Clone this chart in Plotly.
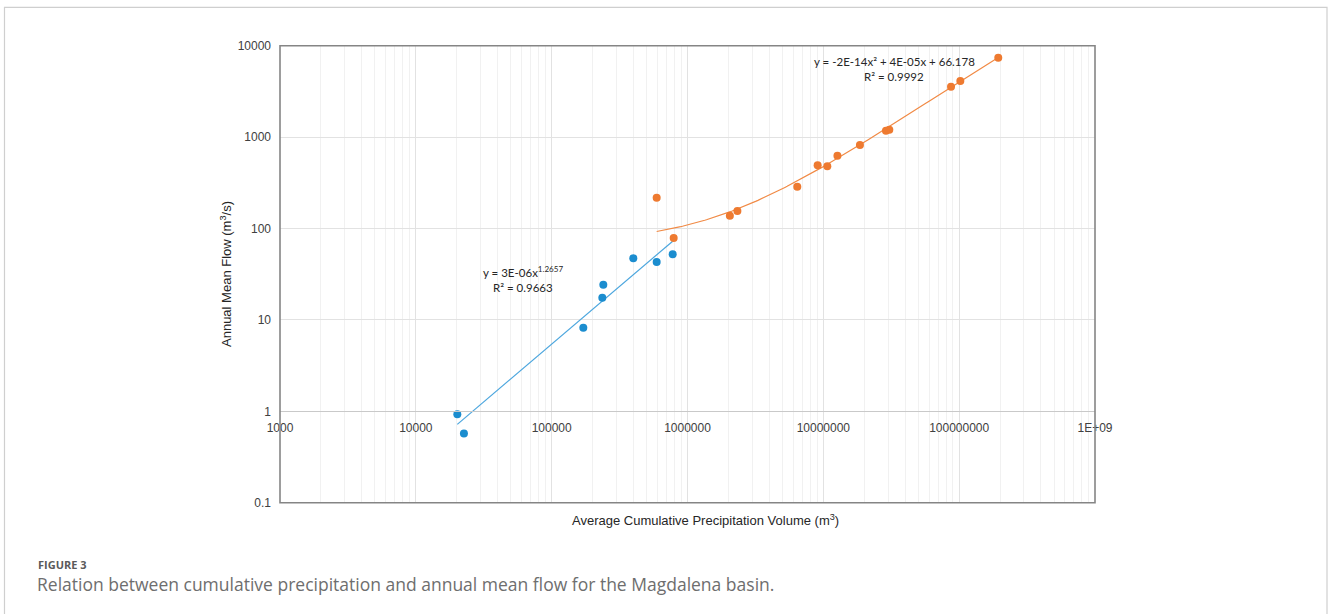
import numpy as np
import plotly.graph_objects as go

# ---- data ----
blue_x = [20200, 22600, 171000, 236000, 240000, 399000, 593000, 778000]
blue_y = [0.93, 0.57, 8.2, 17.5, 24.3, 47.2, 43.0, 52.3]

orange_x = [593000, 791000, 2.05e6, 2.33e6, 6.43e6, 9.08e6, 1.07e7, 1.27e7,
            1.86e7, 2.89e7, 3.06e7, 8.71e7, 1.02e8, 1.94e8]
orange_y = [217, 78.8, 138, 155, 286, 491, 479, 627,
            820, 1175, 1205, 3560, 4110, 7400]

x_tickvals = [1e3, 1e4, 1e5, 1e6, 1e7, 1e8, 1e9]
x_ticktext = ["1000", "10000", "100000", "1000000", "10000000", "100000000", "1E+09"]
y_tickvals = [0.1, 1, 10, 100, 1000, 10000]
y_ticktext = ["0.1", "1", "10", "100", "1000", "10000"]

blue_eq = "y = 3E-06x<sup>1.2657</sup>"
blue_r2 = "R² = 0.9663"
orange_eq = "y = -2E-14x² + 4E-05x + 66.178"
orange_r2 = "R² = 0.9992"

x_title = "Average Cumulative Precipitation Volume (m<sup>3</sup>)"
y_title = "Annual Mean Flow (m<sup>3</sup>/s)"
fig_label = "FIGURE 3"
caption = "Relation between cumulative precipitation and annual mean flow for the Magdalena basin."

BLUE = "#1b8dcf"
BLUE_LINE = "#4ba6de"
ORANGE = "#ee7a30"
ORANGE_LINE = "#f18a45"

# ---- trendlines fitted from the data (as the spreadsheet does) ----
bx = np.array(blue_x, float); by = np.array(blue_y, float)
b_slope, b_int = np.polyfit(np.log10(bx), np.log10(by), 1)
bfx = np.logspace(np.log10(bx.min()), np.log10(bx.max()), 100)
bfy = 10 ** b_int * bfx ** b_slope

ox = np.array(orange_x, float); oy = np.array(orange_y, float)
oc = np.polyfit(ox, oy, 2)
ofx = np.logspace(np.log10(ox.min()), np.log10(ox.max()), 200)
ofy = np.polyval(oc, ofx)

W, H = 1328, 614
def px(x):
    return x / W
def py(y):
    return 1 - y / H

fig = go.Figure()
fig.add_trace(go.Scatter(x=bfx, y=bfy, mode="lines",
                         line=dict(color=BLUE_LINE, width=1.2), hoverinfo="skip"))
fig.add_trace(go.Scatter(x=ofx, y=ofy, mode="lines",
                         line=dict(color=ORANGE_LINE, width=1.2), hoverinfo="skip"))
fig.add_trace(go.Scatter(x=blue_x, y=blue_y, mode="markers",
                         marker=dict(color=BLUE, size=8)))
fig.add_trace(go.Scatter(x=orange_x, y=orange_y, mode="markers",
                         marker=dict(color=ORANGE, size=8)))

minor_x = [m * 10 ** e for e in range(3, 9) for m in range(2, 10)]

x0d, x1d = 280 / W, 1095 / W
y0d, y1d = py(502.7), py(45.7)
axis_pos = y0d + (y1d - y0d) * (0 - (-1)) / 5  # where y = 1 sits

fig.update_layout(
    width=W, height=H,
    margin=dict(l=0, r=0, t=0, b=0),
    paper_bgcolor="white", plot_bgcolor="white",
    showlegend=False,
    font=dict(family="Liberation Sans, Arial, sans-serif", color="#404040", size=12),
    xaxis=dict(type="log", range=[3, 9], domain=[x0d, x1d],
               anchor="free", position=axis_pos,
               tickvals=x_tickvals, ticktext=x_ticktext,
               showline=True, linecolor="#c9c9c9", linewidth=1.3,
               showgrid=True, gridcolor="#e2e2e2", gridwidth=1,
               zeroline=False, ticks="", automargin=False,
               ticklabelstandoff=5,
               tickfont=dict(size=12, color="#404040"),
               minor=dict(tickvals=minor_x, showgrid=True, gridcolor="#f1f1f1", gridwidth=1, ticks="")),
    yaxis=dict(type="log", range=[-1, 4], domain=[y0d, y1d],
               tickvals=y_tickvals, ticktext=y_ticktext,
               showline=False, showgrid=True, gridcolor="#e2e2e2", gridwidth=1,
               zeroline=False, ticks="", automargin=False,
               ticklabelstandoff=8,
               tickfont=dict(size=12, color="#404040")),
)

shapes = [
    # plot frame
    dict(type="rect", xref="paper", yref="paper", x0=x0d, x1=x1d, y0=y0d, y1=y1d,
         line=dict(color="#858585", width=1.6), layer="above"),
    # outer figure frame
    dict(type="rect", xref="paper", yref="paper", x0=px(4.5), x1=px(1327), y0=-0.05, y1=py(7.3),
         line=dict(color="#cfcfcf", width=1.2), layer="below"),
]
fig.update_layout(shapes=shapes)

eq_font = dict(family="Lato, Carlito, sans-serif", size=11.5, color="#262626")
ann = [
    dict(text=blue_eq, x=px(522.7), y=py(271), showarrow=False, font=eq_font,
         xref="paper", yref="paper", xanchor="center", yanchor="middle"),
    dict(text=blue_r2, x=px(522.7), y=py(287.5), showarrow=False, font=eq_font,
         xref="paper", yref="paper", xanchor="center", yanchor="middle"),
    dict(text=orange_eq, x=px(894), y=py(61), showarrow=False, font=eq_font,
         xref="paper", yref="paper", xanchor="center", yanchor="middle"),
    dict(text=orange_r2, x=px(893.5), y=py(76.5), showarrow=False, font=eq_font,
         xref="paper", yref="paper", xanchor="center", yanchor="middle"),
    dict(text=x_title, x=px(706), y=py(520), showarrow=False,
         font=dict(family="Liberation Sans, Arial, sans-serif", size=13, color="#262626"),
         xref="paper", yref="paper", xanchor="center", yanchor="middle"),
    dict(text=y_title, x=px(226), y=py(274), showarrow=False, textangle=-90,
         font=dict(family="Liberation Sans, Arial, sans-serif", size=13, color="#262626"),
         xref="paper", yref="paper", xanchor="center", yanchor="middle"),
    dict(text="<b>" + fig_label + "</b>", x=px(36), y=py(564), showarrow=False,
         font=dict(family="Open Sans, sans-serif", size=11, color="#5a5a5a"),
         xref="paper", yref="paper", xanchor="left", yanchor="middle"),
    dict(text=caption, x=px(35), y=py(583.5), showarrow=False,
         font=dict(family="Open Sans, sans-serif", size=17.5, color="#6e6e6e"),
         xref="paper", yref="paper", xanchor="left", yanchor="middle"),
]
fig.update_layout(annotations=ann)

fig.write_html("out.html")
